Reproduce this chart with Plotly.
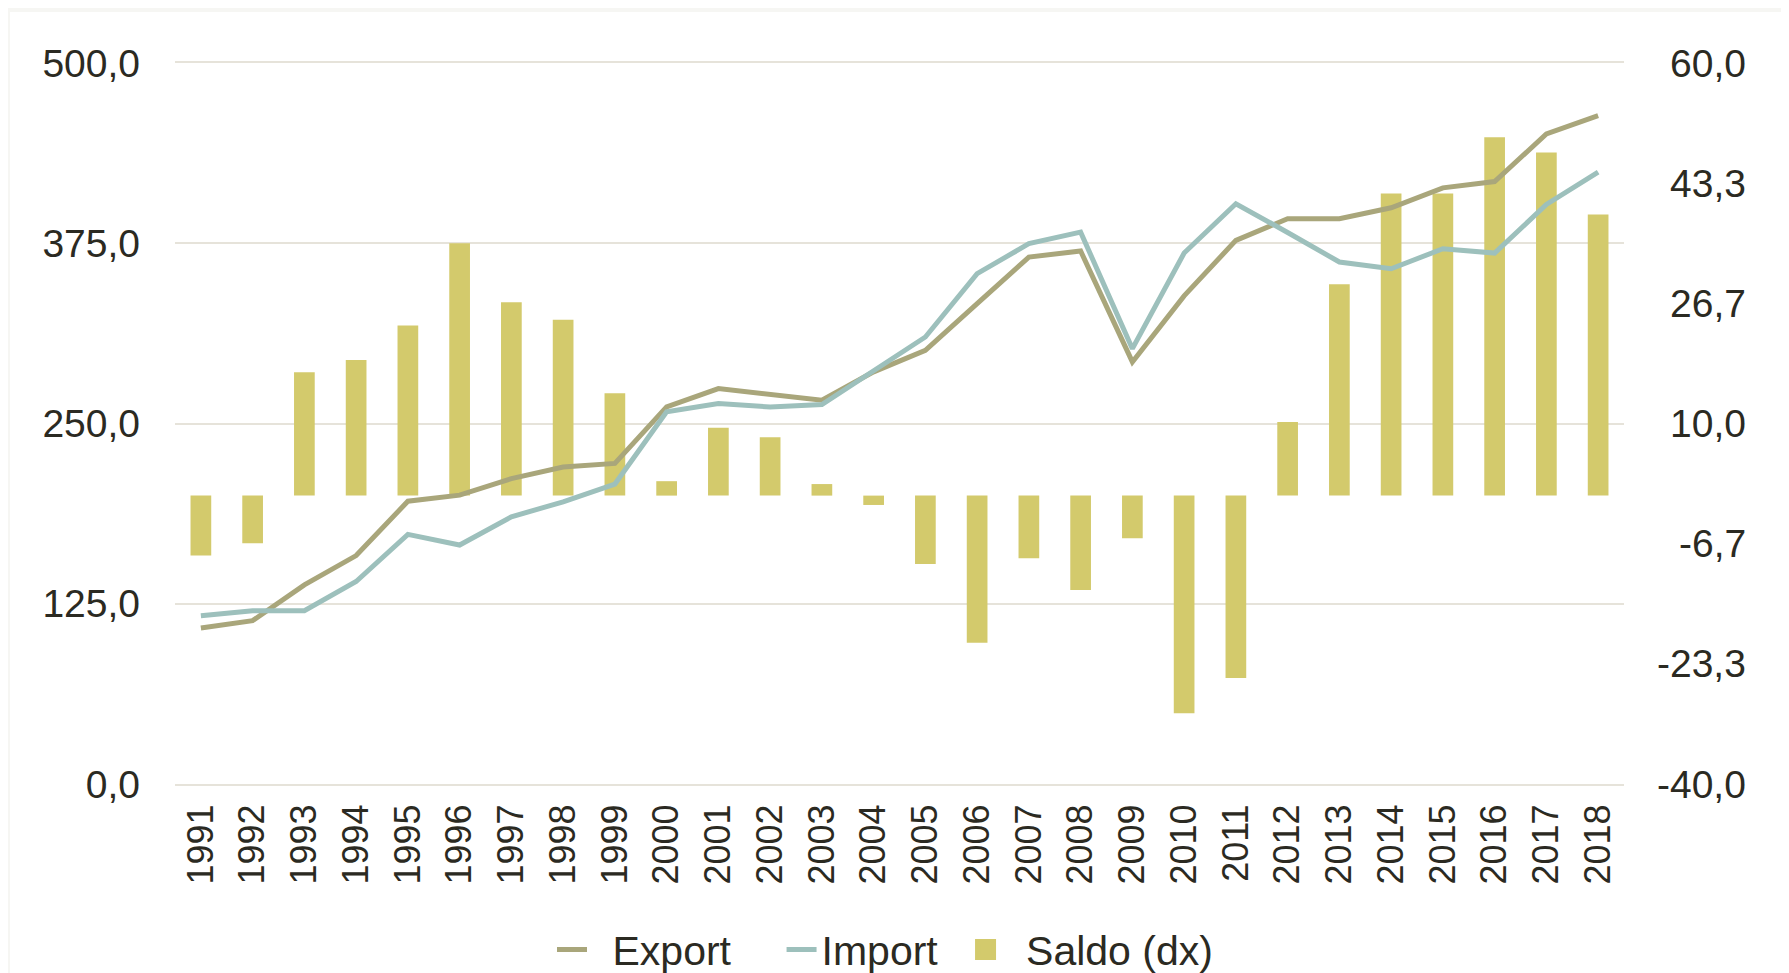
import plotly.graph_objects as go

years = [str(y) for y in range(1991, 2019)]
export_vals = [108.2, 113.3, 138.1, 158.4, 196.1, 200.3, 211.8, 219.8, 222.3, 261.5,
               274.2, 270.1, 266.2, 285.8, 300.8, 333.1, 365.4, 369.6, 292.7, 338.5,
               377.0, 392.0, 392.0, 399.6, 413.4, 417.8, 450.8, 463.5]
import_vals = [116.7, 120.2, 120.2, 140.4, 173.1, 165.7, 185.3, 195.7, 208.0, 258.1,
               263.8, 261.5, 263.2, 287.0, 310.0, 353.9, 374.7, 382.7, 301.9, 368.2,
               402.4, 382.5, 362.0, 357.3, 371.2, 368.2, 401.9, 424.3]
saldo_vals = [-8.3, -6.6, 17.1, 18.8, 23.6, 35.0, 26.8, 24.4, 14.2, 2.0,
              9.4, 8.1, 1.6, -1.3, -9.5, -20.4, -8.7, -13.1, -5.9, -30.2,
              -25.3, 10.2, 29.3, 41.9, 41.9, 49.7, 47.6, 39.0]

left_tickvals = [0, 125, 250, 375, 500]
left_ticktext = ["0,0", "125,0", "250,0", "375,0", "500,0"]
right_tickvals = [-40, -23.333, -6.667, 10, 26.667, 43.333, 60]
right_ticktext = ["-40,0", "-23,3", "-6,7", "10,0", "26,7", "43,3", "60,0"]

EXPORT_C = "#A9A67B"
IMPORT_C = "#9DC0BC"
SALDO_C = "#D3CA6C"
TEXT_C = "#2B2A22"
GRID_C = "#E6E3DA"
FONT = "Liberation Sans, Arial, Helvetica, sans-serif"

W, H = 1789, 973
ML, MR, MT, MB = 167, 173, 55, 197
PW, PH = W - ML - MR, H - MT - MB

EN = "\u2002"
NB = "\u00a0"

fig = go.Figure()
fig.add_trace(go.Bar(x=years, y=saldo_vals, name="Saldo (dx)", marker_color=SALDO_C,
                     marker_line_width=0, yaxis="y", showlegend=False))
fig.add_trace(go.Scatter(x=years, y=export_vals, name=EN + "Export" + NB * 4, mode="lines",
                         line=dict(color=EXPORT_C, width=5), yaxis="y2", legendrank=1))
fig.add_trace(go.Scatter(x=years, y=import_vals, name="Import" + NB * 2, mode="lines",
                         line=dict(color=IMPORT_C, width=5), yaxis="y2", legendrank=2))
# legend entry for the bar series (larger square symbol than the default bar swatch)
fig.add_trace(go.Scatter(x=[None], y=[None], name=EN + "Saldo (dx)", mode="markers",
                         marker=dict(symbol="square", size=16, color=SALDO_C,
                                     line=dict(color=SALDO_C, width=5)),
                         yaxis="y", legendrank=3, hoverinfo="skip"))

annotations = []
for v, t in zip(right_tickvals, right_ticktext):
    annotations.append(dict(x=1, xref="paper", y=v, yref="y", text=t, showarrow=False,
                            xanchor="right", yanchor="middle", xshift=124,
                            font=dict(family=FONT, size=39, color=TEXT_C)))

def px(xp):
    return (xp - ML) / PW

def py(yp):
    return (H - MB - yp) / PH

fig.update_layout(
    width=W, height=H,
    margin=dict(l=ML, r=MR, t=MT, b=MB, pad=0, autoexpand=False),
    paper_bgcolor="#F6F6F3",
    plot_bgcolor="white",
    bargap=0.6,
    showlegend=True,
    legend=dict(orientation="h", x=px(544), xanchor="left", y=-0.230, yanchor="middle",
                font=dict(family=FONT, size=41, color=TEXT_C), traceorder="normal",
                itemwidth=30, bgcolor="rgba(0,0,0,0)"),
    xaxis=dict(type="category", categoryorder="array", categoryarray=years,
               range=[-0.5, len(years) - 0.5], tickangle=-90, showgrid=False,
               zeroline=False, showline=True, mirror=True, linecolor=GRID_C, linewidth=2,
               ticks="", ticklabelstandoff=4,
               tickfont=dict(family=FONT, size=36, color=TEXT_C)),
    yaxis=dict(range=[-40, 60], side="right", showgrid=False, zeroline=False,
               showticklabels=False, ticks="", tickvals=right_tickvals),
    yaxis2=dict(range=[0, 500], side="left", overlaying="y", showgrid=True,
                gridcolor=GRID_C, gridwidth=2, zeroline=False, showline=False, ticks="",
                tickvals=left_tickvals, ticktext=left_ticktext, ticklabelstandoff=34,
                tickfont=dict(family=FONT, size=39, color=TEXT_C)),
    annotations=annotations,
    shapes=[dict(type="rect", xref="paper", yref="paper", layer="below",
                 x0=px(2), x1=px(1777), y0=py(990), y1=py(4),
                 fillcolor="white", line=dict(width=0))],
)

fig.write_html("out.html")
